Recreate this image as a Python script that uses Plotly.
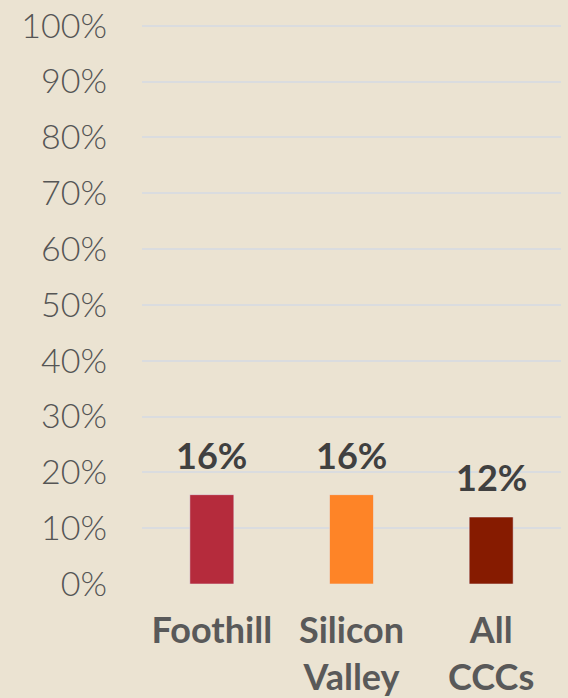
import plotly.graph_objects as go

# chart data
colleges = ["Foothill", "Silicon<br>Valley", "All<br>CCCs"]
shares = [0.16, 0.16, 0.12]
bar_colors = ["#B52B3C", "#FE8427", "#861B00"]
y_ticks = [0, 0.1, 0.2, 0.3, 0.4, 0.5, 0.6, 0.7, 0.8, 0.9, 1.0]
y_tick_text = ["0%", "10%", "20%", "30%", "40%", "50%", "60%", "70%", "80%", "90%", "100%"]

palette = {
    "background": "#EBE3D2",
    "grid": "#DADCDF",
    "tick": "#555555",
    "xlabel": "#595959",
    "label": "#404040",
}

fig = go.Figure()
fig.add_trace(go.Bar(
    x=colleges,
    y=shares,
    marker_color=bar_colors,
    width=0.315,
))

# value labels sit a little above each bar
for name, value in zip(colleges, shares):
    fig.add_annotation(
        x=name, y=value,
        text=f"{round(value * 100)}%",
        showarrow=False,
        yanchor="bottom",
        yshift=16,
        font=dict(family="Lato", size=36, color=palette["label"], weight="bold"),
    )

fig.update_layout(
    width=568,
    height=698,
    paper_bgcolor=palette["background"],
    plot_bgcolor=palette["background"],
    margin=dict(l=142, r=7, t=24, b=114),
    showlegend=False,
    xaxis=dict(
        tickfont=dict(family="Lato", size=36, color=palette["xlabel"], weight="bold"),
        showgrid=False,
        showline=False,
        ticks="",
        ticklabelstandoff=22,
        automargin=False,
    ),
    yaxis=dict(
        range=[0, 1.003],
        tickvals=y_ticks,
        ticktext=y_tick_text,
        tickfont=dict(family="Lato", size=34, color=palette["tick"], weight=300),
        showgrid=True,
        gridcolor=palette["grid"],
        gridwidth=2,
        zeroline=False,
        ticklabelstandoff=34,
        automargin=False,
    ),
)

fig.write_html(
    "out.html",
    config={"displayModeBar": False},
    post_script="document.body.style.margin='0';document.body.style.overflow='hidden';",
)
